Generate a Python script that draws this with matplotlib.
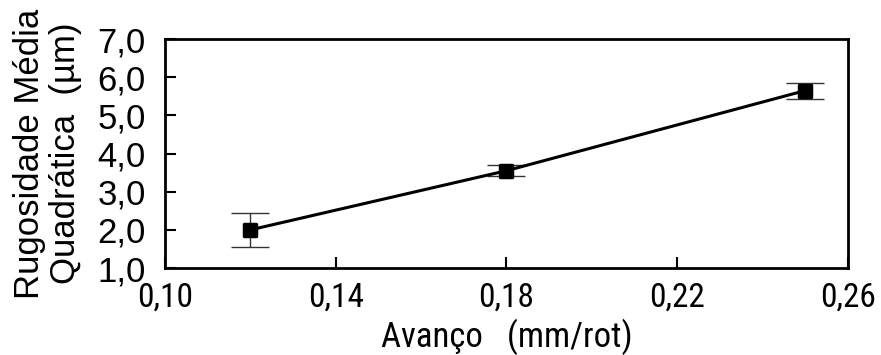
import matplotlib
matplotlib.use("Agg")
import matplotlib.pyplot as plt
from matplotlib import font_manager
from matplotlib.markers import MarkerStyle

avanco = [0.12, 0.18, 0.25]
rugosidade = [2.0, 3.55, 5.65]
erro = [0.45, 0.14, 0.21]

xticks = [0.10, 0.14, 0.18, 0.22, 0.26]
yticks = [1.0, 2.0, 3.0, 4.0, 5.0, 6.0, 7.0]

names = set(f.name for f in font_manager.fontManager.ttflist)
narrow = 'Liberation Sans'
for cand in ['Liberation Sans Narrow', 'Arial Narrow', 'Roboto Condensed', 'Archivo Narrow']:
    if cand in names:
        narrow = cand
        break

fig = plt.figure(figsize=(8.81, 3.55), dpi=100)
ax = fig.add_axes([0.1873, 0.245, 0.7752, 0.645])

ax.errorbar(avanco, rugosidade, yerr=erro, fmt='none', ecolor='#333333',
            elinewidth=1, capsize=14, capthick=1)
ax.plot(avanco, rugosidade, '-', color='black', lw=2.2,
        marker=MarkerStyle('s', joinstyle='round'), markersize=8, markeredgewidth=2.5,
        markerfacecolor='black', markeredgecolor='black')

ax.set_xlim(0.10, 0.26)
ax.set_ylim(1.0, 7.0)
ax.set_xticks(xticks)
ax.set_yticks(yticks)
ax.set_xticklabels([('%.2f' % v).replace('.', ',') for v in xticks],
                   fontsize=24, family=narrow)
ax.set_yticklabels([('%.1f' % v).replace('.', ',') for v in yticks],
                   fontsize=25, family='Liberation Sans')
ax.tick_params(direction='in', length=8, width=1.5)
ax.tick_params(axis='x', pad=10)
ax.tick_params(axis='y', pad=14)
for s in ax.spines.values():
    s.set_linewidth(2)

ax.set_xlabel('Avanço   (mm/rot)', fontsize=25, family=narrow, labelpad=3)
ax.set_ylabel('Rugosidade Média\nQuadrática  (\u00b5m)', fontsize=25,
              family='Liberation Sans', labelpad=11, linespacing=1.12)

plt.savefig('out.png', dpi=100)
